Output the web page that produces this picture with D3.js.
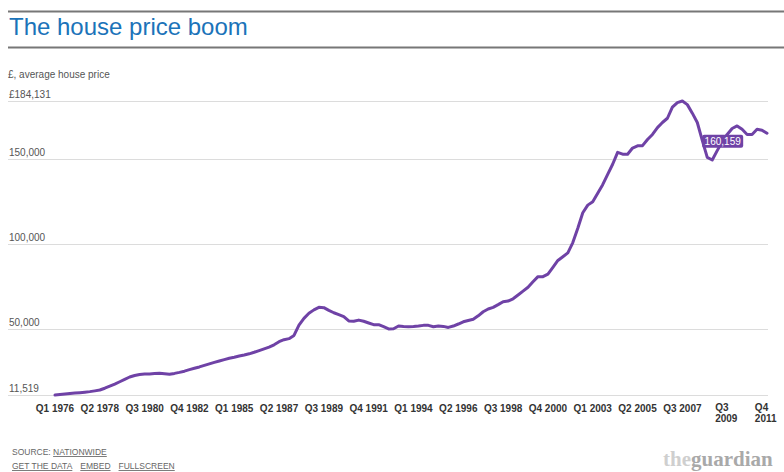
<!DOCTYPE html>
<html>
<head>
<meta charset="utf-8">
<script src="https://cdn.jsdelivr.net/npm/d3@7"></script>
<style>
  body { margin: 0; background: #fff; }
  svg { display: block; font-family: Arial, "Liberation Sans", sans-serif; }
</style>
</head>
<body>
<div id="chart"></div>
<script>
// quarters Q1 1976 .. Q4 2011
var years = d3.range(1976, 2012);
var quarters = [];
years.forEach(function(y) {
    for (var q = 1; q <= 4; q++) quarters.push("Q" + q + " " + y);
});

// Nationwide average house price, £
var prices = [
    11519, 11800, 12100, 12400,   // 1976
    12650, 12900, 13200, 13500,   // 1977
    13950, 14450, 15500, 16700,   // 1978
    17900, 19300, 20700, 22100,   // 1979
    23000, 23600, 23800, 23900,   // 1980
    24100, 24250, 24000, 23700,   // 1981
    24200, 24800, 25500, 26400,   // 1982
    27200, 28000, 28900, 29800,   // 1983
    30700, 31500, 32300, 33100,   // 1984
    33700, 34400, 35000, 35700,   // 1985
    36600, 37600, 38600, 39600,   // 1986
    41000, 42800, 44000, 44600,   // 1987
    46500, 52500, 56500, 59500,   // 1988
    61500, 63000, 62800, 61200,   // 1989
    59800, 58700, 57500, 55000,   // 1990
    54800, 55500, 54800, 53800,   // 1991
    52800, 52800, 51600, 50300,   // 1992
    50400, 52000, 51700, 51600,   // 1993
    51700, 52000, 52400, 52400,   // 1994
    51600, 52000, 51800, 51200,   // 1995
    52000, 53200, 54500, 55300,   // 1996
    56000, 58000, 60400, 62000,   // 1997
    63000, 64600, 66300, 66700,   // 1998
    68000, 70200, 72500, 74800,   // 1999
    78000, 81000, 81000, 82500,   // 2000
    86500, 90500, 92700, 95000,   // 2001
    101000, 109400, 118500, 123000, // 2002
    125000, 130000, 135000, 141000, // 2003
    147000, 154000, 152900, 152900, // 2004
    156500, 157800, 157900, 161500, // 2005
    164500, 168500, 171500, 174000, // 2006
    180500, 183200, 184131, 182000, // 2007
    177000, 171500, 161000, 151000, // 2008
    149500, 155000, 160159, 164500, // 2009
    168000, 169500, 167500, 164500, // 2010
    164500, 167500, 167000, 165200  // 2011
];

var yTicks = [11519, 50000, 100000, 150000, 184131];
var xTicks = ["Q1 1976", "Q2 1978", "Q3 1980", "Q4 1982", "Q1 1985", "Q2 1987",
    "Q3 1989", "Q4 1991", "Q1 1994", "Q2 1996", "Q3 1998", "Q4 2000",
    "Q1 2003", "Q2 2005", "Q3 2007", "Q3 2009", "Q4 2011"];
var wrapped = ["Q3 2009", "Q4 2011"];
var highlight = "Q3 2009";

var width = 784, height = 472;
var lineColor = "#6f42a6";

var svg = d3.select("#chart").append("svg")
    .attr("width", width)
    .attr("height", height);

// header rules + title
svg.append("rect").attr("x", 8).attr("y", 10.5).attr("width", width - 8).attr("height", 2).attr("fill", "#777");
svg.append("text")
    .attr("x", 9).attr("y", 35)
    .attr("font-size", 24)
    .attr("fill", "#1b73b9")
    .text("The house price boom");
svg.append("rect").attr("x", 8).attr("y", 46.5).attr("width", width - 8).attr("height", 2).attr("fill", "#777");

svg.append("text")
    .attr("x", 8).attr("y", 78)
    .attr("font-size", 10)
    .attr("fill", "#555")
    .text("£, average house price");

var x = d3.scalePoint().domain(quarters).range([55, 767]);
var y = d3.scaleLinear().domain([11519, 184131]).range([395, 101]);

// grid lines with labels sitting above them
var grid = svg.append("g");
grid.selectAll("line")
    .data(yTicks)
    .enter().append("line")
    .attr("x1", 8).attr("x2", 768)
    .attr("y1", function(d) { return Math.round(y(d)) + 0.5; })
    .attr("y2", function(d) { return Math.round(y(d)) + 0.5; })
    .attr("stroke", "#dcdcdc");
grid.selectAll("text")
    .data(yTicks)
    .enter().append("text")
    .attr("x", 9)
    .attr("y", function(d) { return y(d) - 3.5; })
    .attr("font-size", 10)
    .attr("fill", "#555")
    .text(function(d) {
        var s = d3.format(",")(d);
        return d == 184131 ? "£" + s : s;
    });

// x tick labels
var xl = svg.append("g").attr("font-size", 10).attr("font-weight", "bold").attr("fill", "#333");
xTicks.forEach(function(t) {
    var cx = x(t);
    if (wrapped.indexOf(t) < 0) {
        xl.append("text").attr("x", cx).attr("y", 412).attr("text-anchor", "middle").text(t);
    } else {
        var parts = t.split(" ");
        var txt = xl.append("text").attr("y", 411);
        txt.append("tspan").attr("x", 0).text(parts[0]);
        txt.append("tspan").attr("x", 0).attr("dy", 11).text(parts[1]);
        var w = txt.node().getBBox().width;
        var left = Math.min(cx - 7, 777 - w);
        txt.selectAll("tspan").attr("x", left);
    }
});

// the line
var line = d3.line()
    .x(function(d, i) { return x(quarters[i]); })
    .y(function(d) { return y(d); });

svg.append("path")
    .datum(prices)
    .attr("d", line)
    .attr("fill", "none")
    .attr("stroke", lineColor)
    .attr("stroke-width", 3)
    .attr("stroke-linejoin", "round")
    .attr("stroke-linecap", "round");

// highlighted value label
var hi = quarters.indexOf(highlight);
var hx = x(highlight), hy = y(prices[hi]);
var lab = svg.append("g").attr("transform", "translate(" + hx + "," + hy + ")");
lab.append("rect")
    .attr("x", -20).attr("y", -7)
    .attr("width", 41).attr("height", 13)
    .attr("rx", 2)
    .attr("fill", lineColor);
lab.append("text")
    .attr("x", 0.5).attr("y", 3.5)
    .attr("text-anchor", "middle")
    .attr("font-size", 10)
    .attr("fill", "#fff")
    .text(d3.format(",")(prices[hi]));

// footer
var foot = svg.append("g").attr("font-size", 8.5).attr("fill", "#666");
var src = foot.append("text").attr("x", 12).attr("y", 455);
src.append("tspan").text("SOURCE: ");
src.append("tspan").attr("text-decoration", "underline").text("NATIONWIDE");
var links = ["GET THE DATA", "EMBED", "FULLSCREEN"];
var lx = 12;
links.forEach(function(l) {
    var t = foot.append("text").attr("x", lx).attr("y", 469)
        .attr("text-decoration", "underline").text(l);
    lx += t.node().getComputedTextLength() + 8;
});

// logo: two words side by side, squeezed to the reference width
var logo = svg.append("g")
    .attr("font-family", "'Liberation Serif', 'DejaVu Serif', serif")
    .attr("font-weight", "bold")
    .attr("font-size", 21);
var t1 = logo.append("text").attr("x", 0).attr("y", 0).attr("fill", "#cfcfcf").text("the");
var w1 = t1.node().getComputedTextLength();
var t2 = logo.append("text").attr("x", w1).attr("y", 0).attr("fill", "#a9a9a9").text("guardian");
var wAll = w1 + t2.node().getComputedTextLength();
var sx = Math.min(1, 115 / wAll);
logo.attr("transform", "translate(663,466) scale(" + sx + ",1)");
</script>
</body>
</html>
